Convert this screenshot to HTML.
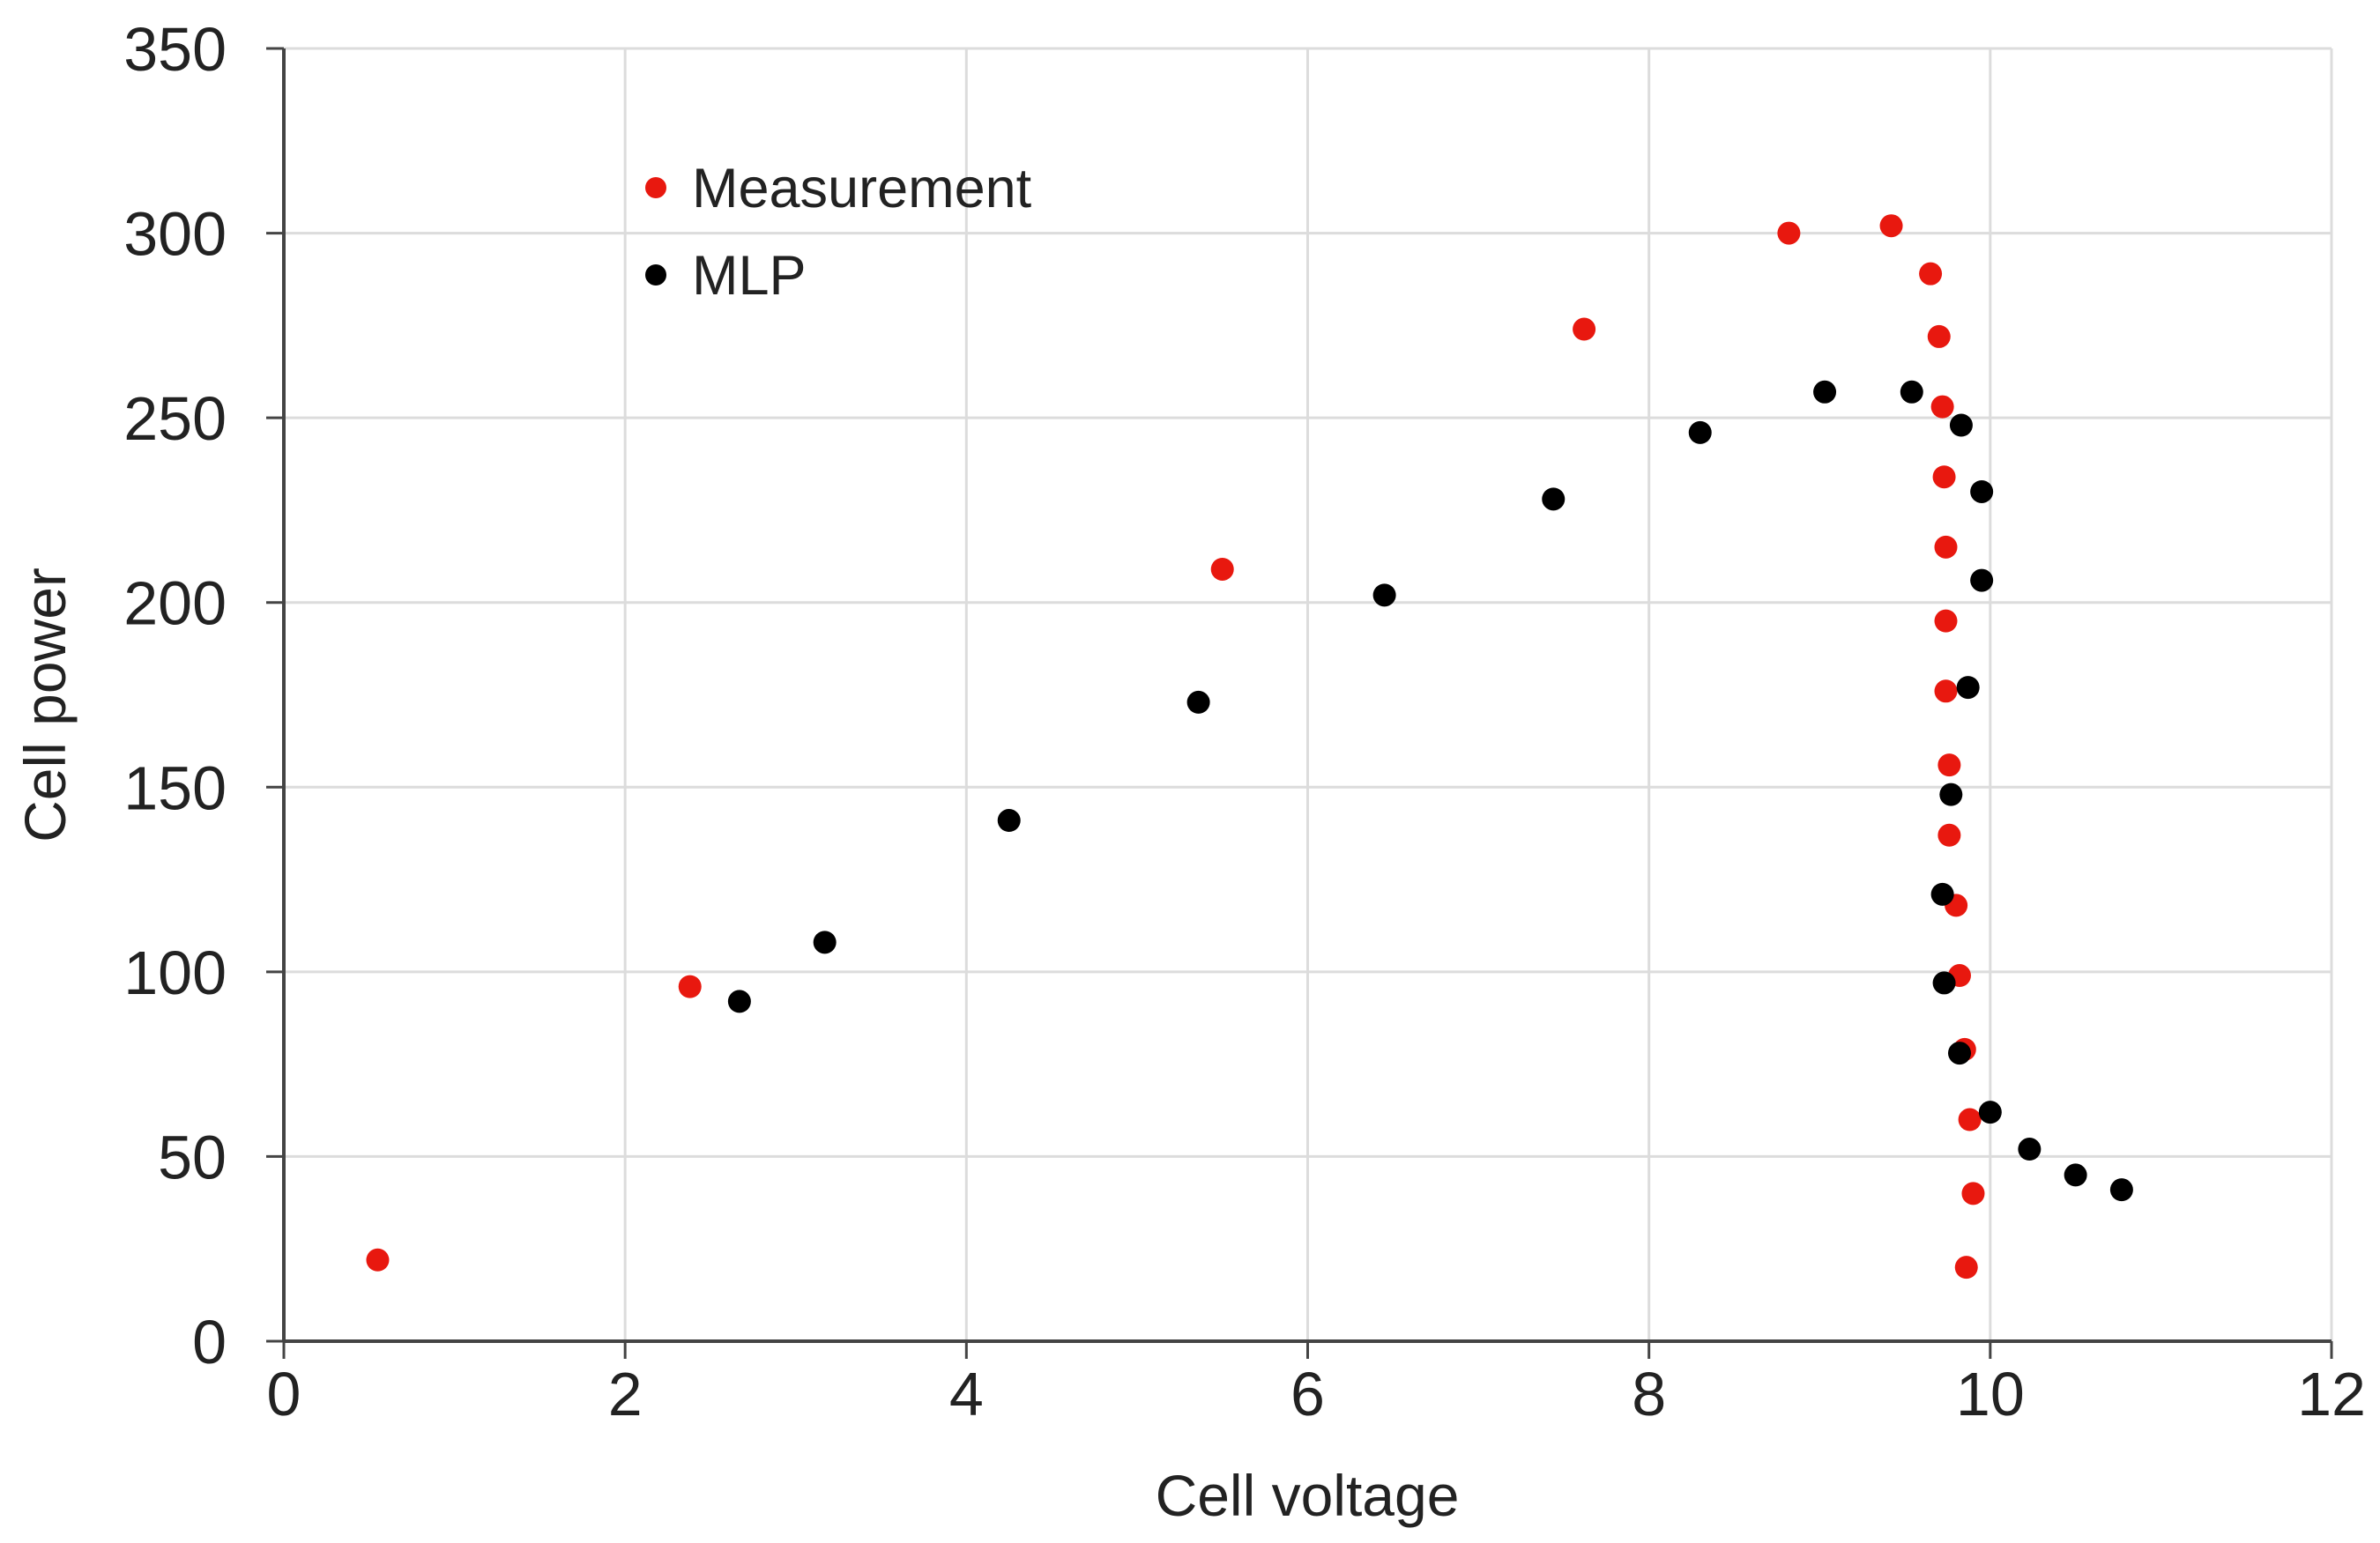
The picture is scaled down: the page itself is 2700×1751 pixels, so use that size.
<!DOCTYPE html>
<html><head><meta charset="utf-8"><style>
html,body{margin:0;padding:0;background:#fff;}
svg{display:block;font-family:"Liberation Sans",sans-serif;}
</style></head><body>
<svg id="chart" width="2700" height="1751" viewBox="0 0 2700 1751" xmlns="http://www.w3.org/2000/svg">
<g id="grid"></g>
<g id="axes"></g>
<g id="marks"></g>
<text x="1483" y="1720" font-size="66" text-anchor="middle" fill="#222">Cell voltage</text>
<text x="0" y="0" font-size="66" text-anchor="middle" fill="#222" transform="translate(74,800) rotate(-90)">Cell power</text>
<g>
<circle cx="744" cy="213" r="12" fill="#e8180f"/>
<text x="785" y="235" font-size="63" fill="#222">Measurement</text>
<circle cx="744" cy="312" r="12" fill="#000"/>
<text x="785" y="334" font-size="63" fill="#222">MLP</text>
</g>
</svg>
<script>
const measX=[0.55,2.38,5.5,7.62,8.82,9.42,9.65,9.7,9.72,9.73,9.74,9.74,9.74,9.76,9.76,9.8,9.82,9.85,9.88,9.9,9.86];
const measY=[22,96,209,274,300,302,289,272,253,234,215,195,176,156,137,118,99,79,60,40,20];
const mlpX=[2.67,3.17,4.25,5.36,6.45,7.44,8.3,9.03,9.54,9.83,9.95,9.95,9.87,9.77,9.72,9.73,9.82,10.0,10.23,10.5,10.77];
const mlpY=[92,108,141,173,202,228,246,257,257,248,230,206,177,148,121,97,78,62,52,45,41];
const xTicks=[0,2,4,6,8,10,12];
const yTicks=[0,50,100,150,200,250,300,350];
const X0=322,X1=2645,Y0=1522,Y1=55;
function sx(v){return X0+(v-0)/(12-0)*(X1-X0);}
function sy(v){return Y0-(v-0)/(350-0)*(Y0-Y1);}
const NS="http://www.w3.org/2000/svg";
function mk(tag,attrs,parent){const e=document.createElementNS(NS,tag);for(const k in attrs)e.setAttribute(k,attrs[k]);parent.appendChild(e);return e;}
const grid=document.getElementById('grid'),axes=document.getElementById('axes'),marks=document.getElementById('marks');
xTicks.forEach(t=>{
  if(t>0){const l=mk('line',{x1:sx(t),x2:sx(t),y1:Y1,y2:Y0,stroke:'#dcdcdc','stroke-width':3},grid);
  
  }
  const tk=mk('line',{x1:sx(t),x2:sx(t),y1:Y0,y2:Y0+20,stroke:'#444','stroke-width':3},axes);
  
  
  const tx=mk('text',{x:sx(t),y:Y0+84,'font-size':70,'text-anchor':'middle',fill:'#222'},axes);
  tx.textContent=t;
  
  
});
yTicks.forEach(t=>{
  if(t>0){const l=mk('line',{x1:X0,x2:X1,y1:sy(t),y2:sy(t),stroke:'#dcdcdc','stroke-width':3},grid);
  
  }
  const tk=mk('line',{x1:X0-20,x2:X0,y1:sy(t),y2:sy(t),stroke:'#444','stroke-width':3},axes);
  
  
  const tx=mk('text',{x:X0-65,y:sy(t)+25,'font-size':70,'text-anchor':'end',fill:'#222'},axes);
  tx.textContent=t;
  
  
});
const ya=mk('line',{x1:X0,x2:X0,y1:Y1,y2:Y0,stroke:'#444','stroke-width':4},axes);


const xa=mk('line',{x1:X0,x2:X1,y1:Y0,y2:Y0,stroke:'#444','stroke-width':4},axes);


measX.forEach((v,i)=>{
  const c=mk('circle',{cx:sx(v),cy:sy(measY[i]),r:13,fill:'#e8180f'},marks);
  
  
});
mlpX.forEach((v,i)=>{
  const c=mk('circle',{cx:sx(v),cy:sy(mlpY[i]),r:13,fill:'#000'},marks);
  
  
});
</script>
</body></html>
